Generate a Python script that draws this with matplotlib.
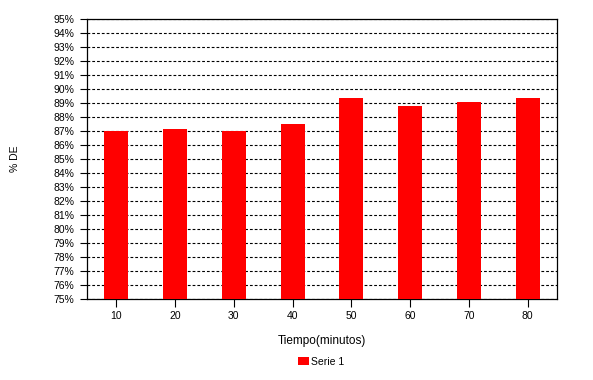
import matplotlib.pyplot as plt
from matplotlib.ticker import FuncFormatter, MultipleLocator

plt.rcParams['font.family'] = ['Liberation Sans', 'DejaVu Sans']

tiempos = ['10', '20', '30', '40', '50', '60', '70', '80']
serie_1 = [87.0, 87.15, 87.0, 87.5, 89.35, 88.8, 89.05, 89.35]

fig = plt.figure(figsize=(5.93, 3.8), dpi=100)
ax = fig.add_axes([87 / 593, 1 - 299 / 380, 470 / 593, 280 / 380])

pos = list(range(len(tiempos)))
ax.bar(pos, [v - 75 for v in serie_1], bottom=75, width=0.41,
       color='#ff0000', label='Serie 1', zorder=3)

ax.set_xlim(-0.5, len(tiempos) - 0.5)
ax.set_ylim(75, 95)
ax.set_xticks(pos)
ax.set_xticklabels(tiempos)
ax.yaxis.set_major_locator(MultipleLocator(1))
ax.yaxis.set_major_formatter(FuncFormatter(lambda v, p: f'{v:.0f}%'))

# dashed guide lines at every percent
ax.grid(axis='y', color='black', linestyle=(0, (2.5, 1.8)), linewidth=0.8, zorder=1)
ax.tick_params(axis='x', direction='inout', length=11, width=0.8,
               labelsize=7.5, pad=3)
ax.tick_params(axis='y', direction='out', length=5, width=0.8,
               labelsize=7.5, pad=4)
for s in ax.spines.values():
    s.set_linewidth(0.9)
    s.set_color('black')

ax.set_xlabel('Tiempo(minutos)', fontsize=8.5, labelpad=10)
ax.set_ylabel('% DE', fontsize=7.5, labelpad=24)

fig.legend(loc='center', bbox_to_anchor=(321 / 593, 1 - 362 / 380),
           frameon=False, fontsize=7.5, handlelength=1.0, handleheight=0.8,
           handletextpad=0.2)

fig.savefig('out.png', dpi=100)
